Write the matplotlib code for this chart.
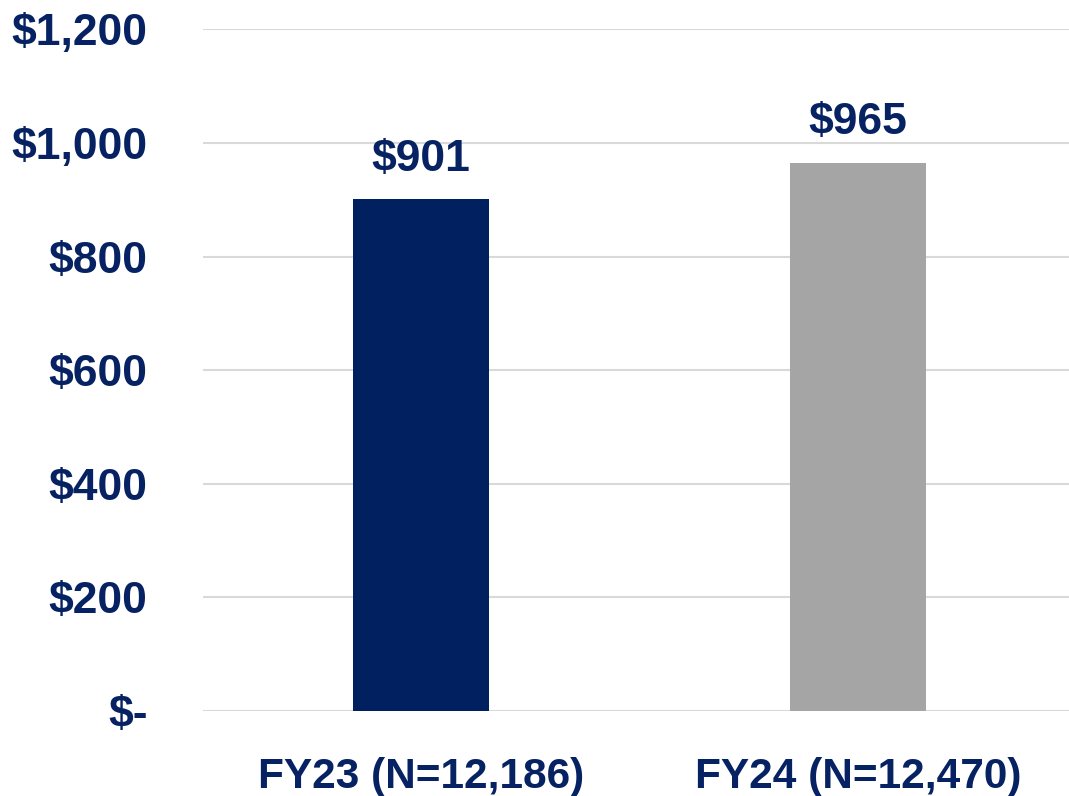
import matplotlib.pyplot as plt
import numpy as np
from matplotlib.ticker import FuncFormatter

categories = ["FY23 (N=12,186)", "FY24 (N=12,470)"]
values = [901, 965]
bar_colors = ["#002060", "#A5A5A5"]
yticks = [0, 200, 400, 600, 800, 1000, 1200]

navy = "#062262"

fig = plt.figure(figsize=(10.69, 7.96), dpi=100)
ax = fig.add_axes([0.19, 0.107, 0.81, 0.856])

x = np.arange(len(categories))
bars = ax.bar(x, values, width=0.311, color=bar_colors, zorder=3)

ax.set_xlim(-0.499, 1.483)
ax.set_ylim(0, 1200)
ax.set_yticks(yticks)
ax.yaxis.set_major_formatter(FuncFormatter(lambda v, p: "$-" if v == 0 else f"${v:,.0f}"))
ax.set_xticks(x, labels=categories)

for lbl in ax.get_yticklabels():
    lbl.set_fontfamily("Liberation Sans")
    lbl.set_fontweight("bold")
    lbl.set_fontsize(32)
    lbl.set_color(navy)
for lbl in ax.get_xticklabels():
    lbl.set_fontfamily("Liberation Sans")
    lbl.set_fontweight("bold")
    lbl.set_fontsize(30.5)
    lbl.set_color(navy)

ax.grid(axis="y", color="#D9D9D9", linewidth=1.5, zorder=0)
ax.set_axisbelow(True)
for s in ax.spines.values():
    s.set_visible(False)
ax.tick_params(length=0)
ax.tick_params(axis="y", pad=40)
ax.tick_params(axis="x", pad=33)

for b, v in zip(bars, values):
    ax.annotate(f"${v:,}", (b.get_x() + b.get_width() / 2, v), xytext=(0, 14),
                textcoords="offset points", ha="center", va="bottom",
                fontfamily="Liberation Sans", fontweight="bold", fontsize=32, color=navy)

fig.savefig("out.png", dpi=100)
